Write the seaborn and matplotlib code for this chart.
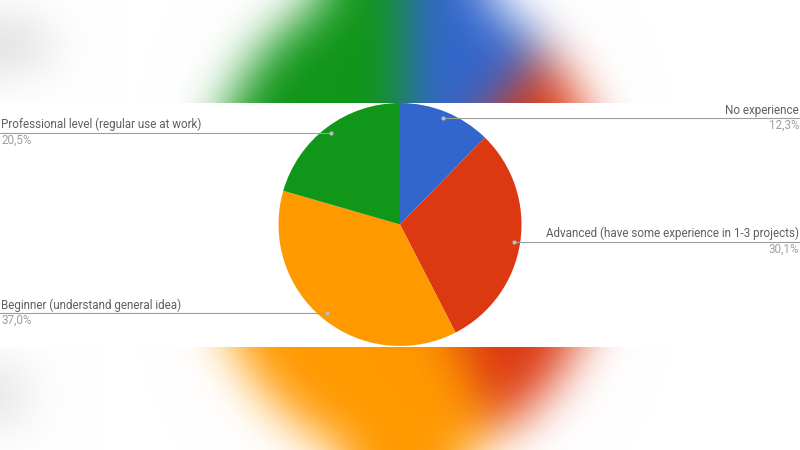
import numpy as np
import matplotlib
matplotlib.use("Agg")
import matplotlib.pyplot as plt
from matplotlib.patches import Ellipse
import seaborn as sns

# Data
labels = ["No experience",
          "Advanced (have some experience in 1-3 projects)",
          "Beginner (understand general idea)",
          "Professional level (regular use at work)"]
shares = [12.3, 30.1, 37.0, 20.5]
colors = sns.color_palette(["#3366CC", "#DC3912", "#FF9900", "#109618"])

sns.set_theme(style="white")
plt.rcParams["font.family"] = ["Roboto", "DejaVu Sans"]

W, H = 800, 450


def blur(img, sigma):
    # separable gaussian blur, numpy only
    r = int(3 * sigma)
    k = np.exp(-0.5 * (np.arange(-r, r + 1) / sigma) ** 2)
    k /= k.sum()
    out = img.astype(float)
    for axis in (0, 1):
        pad = [(0, 0)] * out.ndim
        pad[axis] = (r, r)
        p = np.pad(out, pad, mode="edge")
        acc = np.zeros_like(out)
        n = out.shape[axis]
        for i, w in enumerate(k):
            sl = [slice(None)] * out.ndim
            sl[axis] = slice(i, i + n)
            acc += w * p[tuple(sl)]
        out = acc
    return np.clip(out, 0, 1)


# blurred, stretched copy of the chart used as backdrop
bx, by = 405, 220          # centre in px (from top-left)
sx, sy = 200, 240          # horizontal / vertical half size in px
fig_bg = plt.figure(figsize=(8, 4.5), dpi=100)
axb = fig_bg.add_axes([0, 0, 1, 1])
axb.pie(shares, colors=colors, startangle=90, counterclock=False,
        wedgeprops=dict(linewidth=0))
axb.add_patch(Ellipse((-bx / sx, (by - 45) / sy), 110 / sx, 45 / sy,
                      color="#d9d9d9"))
axb.add_patch(Ellipse((-bx / sx, (by - 395) / sy), 60 / sx, 55 / sy,
                      color="#e2e2e2"))
axb.set_aspect("auto")
axb.set_xlim(-bx / sx, (W - bx) / sx)
axb.set_ylim(-(H - by) / sy, by / sy)
axb.axis("off")
fig_bg.canvas.draw()
bg = np.asarray(fig_bg.canvas.buffer_rgba())[:, :, :3] / 255.0
plt.close(fig_bg)
bg = blur(bg, 24)

# main figure
fig = plt.figure(figsize=(8, 4.5), dpi=100)
ax = fig.add_axes([0, 0, 1, 1])
ax.imshow(bg, extent=(0, W, 0, H), aspect="auto", zorder=0)
ax.axhspan(H - 346.5, H - 103, color="white", zorder=1, linewidth=0)

cx, cy, R = 400, H - 224.5, 121.5
wedges, _ = ax.pie(shares, colors=colors, startangle=90, counterclock=False,
                   center=(cx, cy), radius=R,
                   wedgeprops=dict(linewidth=0, zorder=2))

for w, lab, val in zip(wedges, labels, shares):
    ang = np.deg2rad((w.theta1 + w.theta2) / 2)
    px = cx + 0.945 * R * np.cos(ang)
    py = cy + 0.945 * R * np.sin(ang)
    pct = f"{val:.1f}%".replace(".", ",")
    if np.cos(ang) > 0:
        x_end, tx, ha = W, W - 1, "right"
    else:
        x_end, tx, ha = 0, 1, "left"
    ax.plot([px, x_end], [py, py], color="#9e9e9e", lw=0.8, zorder=3)
    ax.plot(px, py, "o", ms=2, color="#bdbdbd", zorder=4)
    ax.text(tx, py + 1.5, lab, ha=ha, va="bottom", fontsize=8.4,
            color="#5f5f5f", zorder=4)
    ax.text(tx, py - 1.0, pct, ha=ha, va="top", fontsize=8.4,
            color="#9e9e9e", zorder=4)

ax.set_xlim(0, W)
ax.set_ylim(0, H)
ax.axis("off")
fig.savefig("out.png", dpi=100)
